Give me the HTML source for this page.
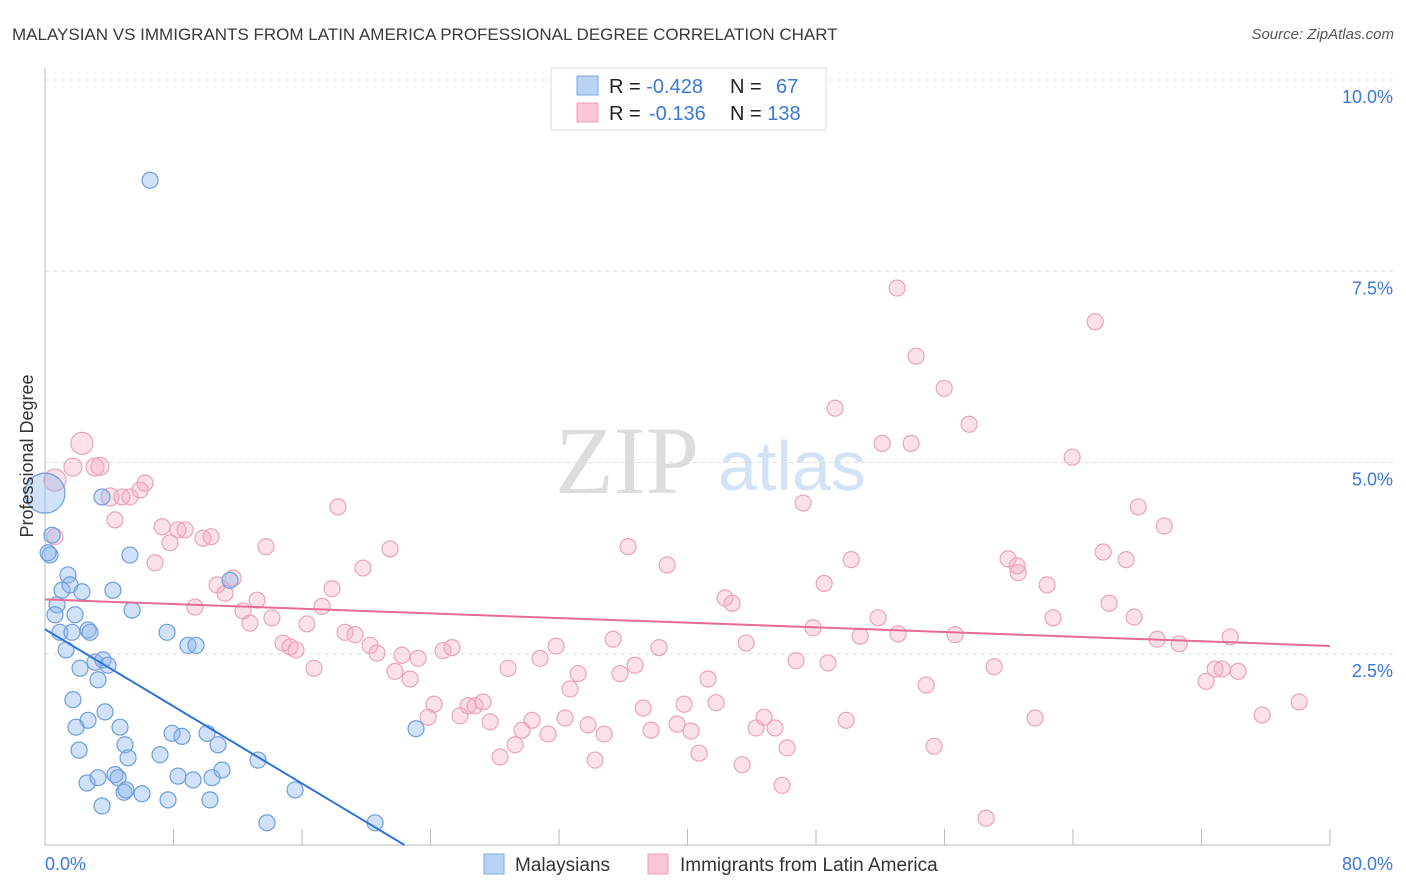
<!DOCTYPE html>
<html><head><meta charset="utf-8"><style>
body{margin:0;background:#fff;font-family:"Liberation Sans",sans-serif;}
svg{display:block}
</style></head><body>
<svg id="c" width="1406" height="892" xmlns="http://www.w3.org/2000/svg">
<text x="12" y="40" font-size="17" fill="#3a3a3a">MALAYSIAN VS IMMIGRANTS FROM LATIN AMERICA PROFESSIONAL DEGREE CORRELATION CHART</text>
<text x="1394" y="39" font-size="15" fill="#555" font-style="italic" text-anchor="end">Source: ZipAtlas.com</text>
<text x="555" y="493" font-size="96" fill="#ddd" font-family="Liberation Serif,serif">ZIP</text>
<text x="718" y="490" font-size="70" fill="#d3e2f5">atlas</text>
<g id="grid"></g><g id="pts"></g><g id="trend"></g>
<text transform="translate(33,456) rotate(-90)" font-size="18" fill="#333" text-anchor="middle">Professional Degree</text>
<g>
<rect x="551" y="68" width="275" height="62" fill="#fff" stroke="#ddd"/>
<rect x="577" y="76" width="21" height="19" fill="#b9d3f5" stroke="#7aa7e5"/>
<rect x="577" y="103" width="21" height="19" fill="#fac7d6" stroke="#eb9fb7"/>
<text x="609" y="93" font-size="20" fill="#222">R = <tspan fill="#3b78d8">-0.428</tspan></text>
<text x="730" y="93" font-size="20" fill="#222">N =  <tspan fill="#3b78d8" x="776">67</tspan></text>
<text x="609" y="120" font-size="20" fill="#222">R = <tspan fill="#3b78d8" x="649">-0.136</tspan></text>
<text x="730" y="120" font-size="20" fill="#222">N = <tspan fill="#3b78d8">138</tspan></text>
</g>
<g>
<rect x="484" y="854" width="20" height="20" fill="#b9d3f5" stroke="#7aa7e5"/>
<text x="515" y="871" font-size="19" fill="#333">Malaysians</text>
<rect x="648" y="854" width="20" height="20" fill="#fac7d6" stroke="#eb9fb7"/>
<text x="680" y="871" font-size="19" fill="#333">Immigrants from Latin America</text>
</g>
<text x="45" y="870" font-size="18" fill="#3b78d8">0.0%</text>
<text x="1393" y="870" font-size="18" fill="#3b78d8" text-anchor="end">80.0%</text>
</svg>
<script>
const blueX=[6.54,0,0.44,0.31,0.19,0.75,1.06,1.43,1.56,1.87,0.93,1.68,2.68,2.80,2.30,4.23,5.29,3.55,5.42,7.60,8.90,9.40,1.31,2.18,3.11,3.30,3.61,3.92,1.74,2.68,1.93,2.12,3.74,4.67,4.98,5.17,7.16,7.91,8.53,10.09,10.77,2.62,3.30,4.36,4.55,4.92,5.04,6.04,3.55,7.66,8.28,9.22,10.27,10.40,11.02,13.26,11.52,15.57,13.82,20.55,23.10,0.62];
const blueY=[8.69,4.60,4.05,3.79,3.82,3.14,3.33,3.53,3.40,3.01,2.78,2.78,2.81,2.78,3.31,3.33,3.79,4.55,3.07,2.78,2.61,2.61,2.55,2.31,2.39,2.16,2.42,2.35,1.90,1.63,1.54,1.24,1.74,1.54,1.31,1.14,1.18,1.46,1.42,1.46,1.31,0.81,0.88,0.92,0.88,0.69,0.72,0.67,0.51,0.59,0.90,0.85,0.59,0.88,0.98,1.11,3.46,0.72,0.29,0.29,1.52,3.01];
const pinkX=[0.62,2.30,1.74,3.11,3.42,4.05,0.62,4.36,4.79,5.29,5.92,6.23,6.85,7.29,7.78,8.28,8.72,9.34,9.84,10.34,10.71,11.21,11.71,12.33,12.76,13.20,13.76,14.13,14.82,15.26,15.63,16.31,16.75,17.25,17.87,18.24,18.68,19.30,19.80,20.24,20.67,21.48,21.79,22.23,22.73,23.23,23.85,24.22,24.78,25.34,25.84,26.34,26.77,27.27,27.71,28.33,28.83,29.27,29.70,30.32,30.82,31.32,31.82,32.38,32.69,33.19,33.81,34.25,34.81,35.37,35.80,36.30,36.74,37.24,37.73,38.23,38.73,39.35,39.79,40.22,40.72,41.28,41.78,42.34,42.78,43.40,43.65,44.27,44.77,45.45,45.89,46.20,46.76,47.20,47.82,48.51,48.75,49.19,49.88,50.19,50.75,51.87,52.12,53.05,53.11,53.92,54.23,54.86,55.35,55.98,56.66,57.53,58.59,59.09,59.96,60.52,60.59,61.64,62.39,62.76,63.95,65.38,65.88,66.25,67.31,67.81,68.06,69.24,69.68,70.61,72.29,72.85,73.29,73.79,74.28,75.78,78.08];
const pinkY=[4.77,5.25,4.94,4.94,4.95,4.55,4.03,4.25,4.55,4.55,4.64,4.73,3.69,4.16,3.95,4.12,4.12,3.11,4.01,4.03,3.40,3.29,3.49,3.06,2.90,3.20,3.90,2.97,2.64,2.59,2.55,2.89,2.31,3.12,3.35,4.42,2.78,2.75,3.62,2.61,2.51,3.87,2.27,2.48,2.17,2.44,1.67,1.84,2.54,2.58,1.69,1.82,1.82,1.87,1.61,1.15,2.31,1.31,1.50,1.63,2.44,1.45,2.60,1.66,2.04,2.24,1.57,1.11,1.45,2.69,2.24,3.90,2.35,1.79,1.50,2.58,3.66,1.58,1.84,1.49,1.20,2.17,1.86,3.23,3.16,1.05,2.64,1.53,1.67,1.53,0.78,1.27,2.41,4.47,2.84,3.42,2.38,5.71,1.63,3.73,2.73,2.97,5.25,7.28,2.76,5.25,6.39,2.09,1.29,5.97,2.75,5.50,0.35,2.33,3.74,3.65,3.56,1.66,3.40,2.97,5.07,6.84,3.83,3.16,3.73,2.98,4.42,2.69,4.17,2.63,2.14,2.30,2.30,2.72,2.27,1.70,1.87];
const yTicks=[2.5,5.0,7.5,10.0];
const xTickVals=[8,16,24,32,40,48,56,64,72,80];
const blueTrend=[2.82,-0.126];
const pinkTrend=[3.21,-0.0076];
const NS="http://www.w3.org/2000/svg";
const X=v=>45+v/80*1285, Y=v=>845-v/10*765;
function mk(t,a,p){const e=document.createElementNS(NS,t);for(const k in a)e.setAttribute(k,a[k]);p.appendChild(e);return e;}
const grid=document.getElementById('grid');
yTicks.forEach(t=>{
 const l=mk('line',{x1:45,x2:1393,y1:Y(t),y2:Y(t),stroke:'#ddd','stroke-dasharray':'4,4'},grid);
 
 
 const tx=mk('text',{x:1393,y:Y(t)+23,'font-size':18,fill:'#3b78d8','text-anchor':'end'},grid);
 tx.textContent=t.toFixed(1)+'%';
 
 
});
const ax=mk('line',{x1:45,x2:1330,y1:845,y2:845,stroke:'#bbb'},grid);


const ay=mk('line',{x1:45,x2:45,y1:68,y2:845,stroke:'#bbb'},grid);


xTickVals.forEach(t=>{
 const l=mk('line',{x1:X(t),x2:X(t),y1:829,y2:845,stroke:'#bbb'},grid);
 
 
});
const pts=document.getElementById('pts');
pinkX.forEach((x,i)=>{
 const r=(i===0||i===1)?11:(i<6?9:8);
 const c=mk('circle',{cx:X(x),cy:Y(pinkY[i]),r:r,fill:'rgba(246,170,195,0.35)',stroke:'#eba3bb','stroke-width':1.2},pts);
 
 
});
blueX.forEach((x,i)=>{
 const r=i===1?20:8;
 const c=mk('circle',{cx:X(x),cy:Y(blueY[i]),r:r,fill:'rgba(140,180,235,0.4)',stroke:'#6d9de0','stroke-width':1.2},pts);
 
 
});
const tr=document.getElementById('trend');
const bx1=-blueTrend[0]/blueTrend[1];
const bl=mk('line',{x1:X(0),y1:Y(blueTrend[0]),x2:X(bx1),y2:Y(0),stroke:'#2f74d8','stroke-width':2},tr);


const pl=mk('line',{x1:X(0),y1:Y(pinkTrend[0]),x2:X(80),y2:Y(pinkTrend[0]+pinkTrend[1]*80),stroke:'#e56a95','stroke-width':2},tr);


</script>
</body></html>
